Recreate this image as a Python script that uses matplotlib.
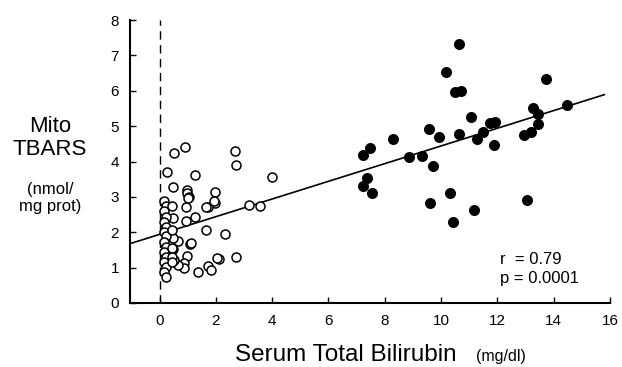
import matplotlib
matplotlib.use("Agg")
import matplotlib.pyplot as plt
import numpy as np

plt.rcParams['font.family'] = ['Liberation Sans', 'DejaVu Sans']

# Filled circles (jaundiced)
filled_x = [10.64, 10.18, 10.50, 10.70, 13.72, 11.05, 11.75, 11.90, 13.27, 13.45, 13.45,
            14.48, 12.95, 13.20, 9.57, 8.30, 9.94, 10.64, 11.29, 11.50, 11.88, 7.46, 7.23,
            8.85, 9.32, 9.71, 7.37, 7.23, 7.54, 10.33, 9.62, 11.18, 10.41, 13.04]
filled_y = [7.31, 6.53, 5.97, 6.00, 6.33, 5.27, 5.10, 5.12, 5.50, 5.34, 5.06,
            5.60, 4.74, 4.82, 4.91, 4.63, 4.68, 4.79, 4.64, 4.82, 4.46, 4.39, 4.18,
            4.13, 4.16, 3.86, 3.54, 3.32, 3.10, 3.12, 2.84, 2.64, 2.29, 2.92]

# Open circles (controls / low bilirubin)
open_x = [0.90, 0.50, 2.67, 2.73, 0.27, 1.26, 3.98, 0.49, 0.96, 0.96, 1.05, 1.96, 1.96,
          1.71, 0.94, 3.19, 3.58, 1.26, 0.94, 0.47, 1.64, 2.34, 1.09, 2.73, 2.10, 1.72,
          1.81, 1.35, 0.96, 0.88, 0.88, 0.64, 0.64, 0.47, 0.47, 0.53,
          0.15, 0.22, 0.15, 0.22, 0.15, 0.22, 0.15, 0.22, 0.15, 0.22, 0.15, 0.22, 0.15,
          0.22, 0.15, 0.22,
          0.45, 0.45, 0.45, 0.45, 0.45, 1.02, 1.65, 1.93, 1.11, 2.04]
open_y = [4.42, 4.25, 4.30, 3.90, 3.71, 3.62, 3.55, 3.28, 3.19, 3.12, 2.99, 3.15, 2.83,
          2.70, 2.71, 2.77, 2.74, 2.42, 2.33, 2.41, 2.07, 1.95, 1.67, 1.29, 1.24, 1.05,
          0.94, 0.89, 1.34, 1.13, 1.00, 1.08, 1.74, 1.84, 1.53, 1.22,
          2.87, 2.73, 2.59, 2.44, 2.30, 2.16, 2.02, 1.88, 1.73, 1.59, 1.45, 1.31, 1.16,
          1.02, 0.88, 0.74,
          2.73, 2.07, 1.56, 1.31, 1.16, 2.98, 2.70, 2.87, 1.70, 1.28]

# Regression line y = a + b*x
reg_a = 1.94
reg_b = 0.25

x_ticks = [0, 2, 4, 6, 8, 10, 12, 14, 16]
y_ticks = [0, 1, 2, 3, 4, 5, 6, 7, 8]

fig = plt.figure(figsize=(6.22, 3.67), dpi=100)
ax = fig.add_axes([130/622, 1-303/367, 480/622, 283/367])
ax.set_xlim(-1.05, 15.8)
ax.set_ylim(0, 8)

ax.axvline(0, color='black', lw=1.0, ls=(0, (6, 4)), zorder=1)
xl = np.array([-1.05, 15.8])
ax.plot(xl, reg_a + reg_b*xl, color='black', lw=1.2, zorder=2)

ax.scatter(open_x, open_y, s=42, facecolors='white', edgecolors='black', linewidths=1.1, zorder=3)
ax.scatter(filled_x, filled_y, s=48, color='black', zorder=4)

for s in ['top', 'right']:
    ax.spines[s].set_visible(False)
ax.spines['left'].set_linewidth(1.5)
ax.spines['bottom'].set_linewidth(1.5)
ax.set_xticks(x_ticks)
ax.set_yticks(y_ticks)
ax.tick_params(direction='in', length=4, width=1, labelsize=11, pad=8)
ax.set_xticklabels([str(t) for t in x_ticks])
ax.set_yticklabels([str(t) for t in y_ticks])
for lbl in ax.get_xticklabels():
    lbl.set_clip_on(False)

fig.text(500/622, 1-260/367, 'r  = 0.79', fontsize=12, va='center', ha='left')
fig.text(500/622, 1-278/367, 'p = 0.0001', fontsize=12, va='center', ha='left')

fig.text(50/622, 1-132/367, 'Mito', fontsize=16, ha='center', va='baseline')
fig.text(50/622, 1-155/367, 'TBARS', fontsize=16, ha='center', va='baseline')
fig.text(50/622, 1-189/367, '(nmol/', fontsize=12, ha='center', va='center')
fig.text(50/622, 1-207/367, 'mg prot)', fontsize=12, ha='center', va='center')

fig.text(346/622, 1-355/367, 'Serum Total Bilirubin', fontsize=17.5, ha='center', va='center')
fig.text(501/622, 1-357/367, '(mg/dl)', fontsize=11.5, ha='center', va='center')

fig.savefig('out.png', dpi=100)
